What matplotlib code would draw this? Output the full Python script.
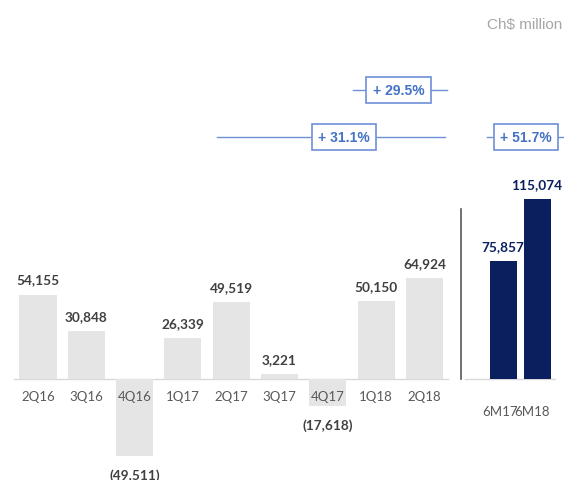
import matplotlib
matplotlib.use("Agg")
import matplotlib.pyplot as plt

quarters = ["2Q16", "3Q16", "4Q16", "1Q17", "2Q17", "3Q17", "4Q17", "1Q18", "2Q18"]
quarter_values = [54155, 30848, -49511, 26339, 49519, 3221, -17618, 50150, 64924]
half_labels = ["6M17", "6M18"]
half_values = [75857, 115074]
growth_labels = ["+ 29.5%", "+ 31.1%", "+ 51.7%"]

W, H = 564, 481
fig = plt.figure(figsize=(W / 100, H / 100), dpi=100)
ax = fig.add_axes([0, 0, 1, 1])
ax.set_axis_off()

px_x = 48.3          # pixels per category unit
px_y = 0.00156       # pixels per value unit
x0_px, y0_px = 38, 380
ax.set_xlim(-x0_px / px_x, (W - x0_px) / px_x)
ax.set_ylim(-(H - y0_px) / px_y, y0_px / px_y)

def px2x(p):
    return (p - x0_px) / px_x

def px2y(p):
    return (y0_px - p) / px_y

grey_bar = "#e5e5e5"
navy = "#0b1f5e"
lab_col = "#404040"
cat_col = "#595959"
blue = "#4472c4"

# zero lines
ax.plot([px2x(14), px2x(448)], [0, 0], color="#d9d9d9", lw=1, zorder=1)
ax.plot([px2x(465), px2x(555)], [0, 0], color="#d9d9d9", lw=1, zorder=1)

# quarterly bars
xq = list(range(len(quarters)))
ax.bar(xq, quarter_values, width=0.77, color=grey_bar, zorder=2)
for x, v, c in zip(xq, quarter_values, quarters):
    if v >= 0:
        ax.text(x, v + 9 / px_y, f"{v:,}", ha="center", va="bottom",
                fontsize=9.8, fontweight="bold", color=lab_col, family="Lato")
    else:
        ax.text(x, v - 12 / px_y, f"({-v:,})", ha="center", va="top",
                fontsize=9.8, fontweight="bold", color=lab_col, family="Lato")
    ax.text(x, px2y(397), c, ha="center", va="center", fontsize=9.5,
            color=cat_col, family="Lato", zorder=3)

# separator
ax.plot([px2x(461)] * 2, [0, px2y(210)], color="#595959", lw=1.2, zorder=2)

# half-year bars
xh = [px2x(503), px2x(537)]
ax.bar(xh, half_values, width=27 / px_x, color=navy, zorder=2)
for x, v in zip(xh, half_values):
    ax.text(x, v + 9 / px_y, f"{v:,}", ha="center", va="bottom",
            fontsize=9.8, fontweight="bold", color=navy, family="Lato")
ax.text(px2x(500), px2y(412), half_labels[0], ha="center", va="center",
        fontsize=9.5, color=cat_col, family="Lato")
ax.text(px2x(532), px2y(412), half_labels[1], ha="center", va="center",
        fontsize=9.5, color=cat_col, family="Lato")

# growth brackets
brackets = [
    (growth_labels[0], 353, 447, 398.5, 91),
    (growth_labels[1], 217, 445, 344, 138),
    (growth_labels[2], 487, 564, 526, 138),
]
for lab, xa, xb, xc, yc in brackets:
    ax.plot([px2x(xa), px2x(xb)], [px2y(yc), px2y(yc)], color="#6f8fd8", lw=1, zorder=1)
    ax.text(px2x(xc), px2y(yc), lab, ha="center", va="center", fontsize=10,
            fontweight="bold", color=blue, family="Liberation Sans", zorder=3,
            bbox=dict(boxstyle="square,pad=0.45", fc="white", ec="#6f8fd8", lw=1.2))

ax.text(px2x(562), px2y(25), "Ch$ million", ha="right", va="center",
        fontsize=11, color="#a6a6a6", family="Liberation Sans")

fig.savefig("out.png", dpi=100)
